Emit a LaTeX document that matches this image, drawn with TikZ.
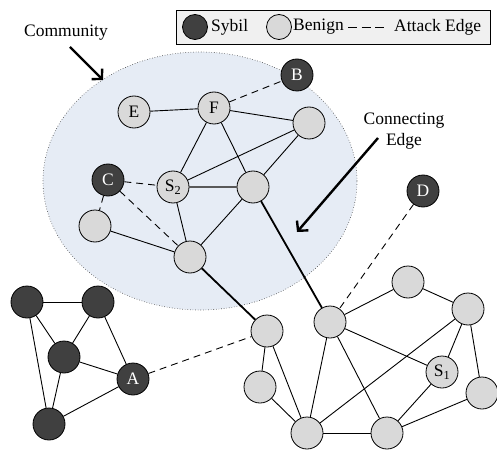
\documentclass[tikz,border=0pt]{standalone}
\usepackage{fontspec}
\setmainfont{Liberation Serif}
\usetikzlibrary{arrows.meta}
\definecolor{sybilgray}{HTML}{404040}
\definecolor{benigngray}{HTML}{D9D9D9}
\definecolor{commfill}{HTML}{E6ECF5}
\definecolor{legendfill}{HTML}{F0F0F0}
\tikzset{
  sybil/.style={circle,draw=black,fill=sybilgray,text=white,minimum size=32pt,inner sep=0pt,line width=0.8pt},
  benign/.style={circle,draw=black,fill=benigngray,minimum size=32pt,inner sep=0pt,line width=0.8pt},
  edge/.style={line width=0.9pt},
  attack/.style={line width=0.9pt,dash pattern=on 7pt off 5pt},
  connect/.style={line width=1.8pt},
  pointer/.style={-{Straight Barb[length=7pt,width=15pt]},line width=2.4pt},
}

\begin{document}
\begin{tikzpicture}[x=1pt,y=-1pt]
  \fontsize{17.5}{21}\selectfont
  \useasboundingbox (0,0) rectangle (497,449);

  % community area
  \draw[fill=commfill,draw=black!75,dotted,line width=0.6pt] (200,181) ellipse [x radius=157pt, y radius=129pt];

  % legend
  \node[draw,fill=legendfill,line width=0.8pt,minimum width=314pt,minimum height=34pt,inner sep=0pt] (legend) at (333,27) {};
  \node[sybil,minimum size=25pt] (keysybil) at (195,27) {};
  \node[anchor=west,inner sep=0pt] (keysybiltext) at (211,27) {Sybil};
  \node[benign,minimum size=25pt] (keybenign) at (279,27) {};
  \node[anchor=west,inner sep=0pt] (keybenigntext) at (293,27) {Benign};
  \coordinate (keydasha) at (348,28);
  \coordinate (keydashb) at (384,28);
  \draw[line width=1pt,dash pattern=on 9pt off 4.5pt] (keydasha) -- (keydashb);
  \node[anchor=west,inner sep=0pt] (keyattack) at (394,27) {Attack Edge};

  % labels and pointers
  \node (commlabel) at (66,33) {Community};
  \coordinate (commtail) at (70,47);
  \coordinate (commtip) at (103,80);
  \draw[pointer] (commtail) -- (commtip);
  \node[align=center] (connlabel) at (404,131) {Connecting\\Edge};
  \coordinate (conntail) at (378,138);
  \coordinate (conntip) at (297,232);
  \draw[pointer] (conntail) -- (conntip);

  % community nodes
  \node[benign] (E) at (134,112) {E};
  \node[benign] (F) at (214,108) {F};
  \node[sybil]  (B) at (297,75) {B};
  \node[benign] (R) at (309,123) {};
  \node[sybil]  (C) at (108,180) {C};
  \node[benign] (S2) at (173,187) {S\textsubscript{2}};
  \node[benign] (M) at (253,187) {};
  \node[benign] (L) at (95,226) {};
  \node[benign] (G) at (190,257) {};
  \node[sybil]  (D) at (423,191) {D};

  % sybil region
  \node[sybil] (Sa) at (27,302) {};
  \node[sybil] (Sb) at (98,302) {};
  \node[sybil] (Sc) at (64,357) {};
  \node[sybil] (A) at (133,379) {A};
  \node[sybil] (Sd) at (49,424) {};

  % honest region
  \node[benign] (N1) at (267,331) {};
  \node[benign] (N2) at (330,322) {};
  \node[benign] (N3) at (408,282) {};
  \node[benign] (N4) at (468,309) {};
  \node[benign] (S1) at (442,372) {S\textsubscript{1}};
  \node[benign] (N5) at (482,393) {};
  \node[benign] (N6) at (260,387) {};
  \node[benign] (N7) at (307,433) {};
  \node[benign] (N8) at (387,433) {};

  \draw[edge] (E) -- (F);
  \draw[edge] (F) -- (R);
  \draw[edge] (F) -- (S2);
  \draw[edge] (F) -- (M);
  \draw[edge] (S2) -- (R);
  \draw[line width=1.4pt,black!65] (S2) -- (M);
  \draw[edge] (M) -- (R);
  \draw[edge] (L) -- (G);
  \draw[edge] (S2) -- (G);
  \draw[edge] (M) -- (G);
  \draw[attack] (F) -- (B);
  \draw[attack] (C) -- (S2);
  \draw[attack] (C) -- (L);
  \draw[attack] (C) -- (G);

  \draw[edge] (Sa) -- (Sb);
  \draw[edge] (Sa) -- (Sc);
  \draw[edge] (Sa) -- (Sd);
  \draw[edge] (Sb) -- (Sc);
  \draw[edge] (Sb) -- (A);
  \draw[edge] (Sc) -- (A);
  \draw[edge] (Sc) -- (Sd);
  \draw[edge] (Sd) -- (A);
  \draw[attack] (A) -- (N1);

  \draw[connect] (G) -- (N1);
  \draw[connect] (M) -- (N2);
  \draw[attack] (D) -- (N2);

  \draw[edge] (N2) -- (N3);
  \draw[edge] (N3) -- (N4);
  \draw[edge] (N2) -- (S1);
  \draw[edge] (N2) -- (N7);
  \draw[edge] (N2) -- (N8);
  \draw[edge] (N4) -- (S1);
  \draw[edge] (N4) -- (N5);
  \draw[edge] (N4) -- (N7);
  \draw[edge] (S1) -- (N8);
  \draw[edge] (N5) -- (N8);
  \draw[edge] (N7) -- (N8);
  \draw[edge] (N1) -- (N6);
  \draw[edge] (N1) -- (N7);
  \draw[edge] (N6) -- (N7);
\end{tikzpicture}
\end{document}
